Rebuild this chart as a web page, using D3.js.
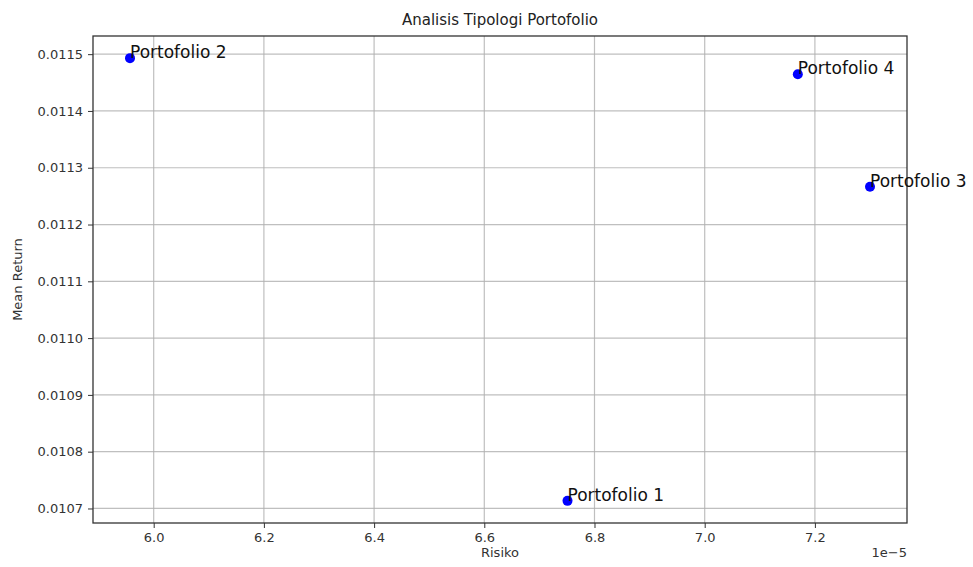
<!DOCTYPE html>
<html><head><meta charset="utf-8">
<script src="https://cdn.jsdelivr.net/npm/d3@7"></script>
<style>body{margin:0;background:#fff;} text{font-family:"DejaVu Sans",sans-serif;}</style>
</head><body>
<svg id="c" width="973" height="567"></svg>
<script>
const names = ["Portofolio 1","Portofolio 2","Portofolio 3","Portofolio 4"];
const risk = [6.751e-5, 5.957e-5, 7.300e-5, 7.169e-5];
const meanReturn = [0.0107134, 0.011493, 0.0112666, 0.0114646];
const xTicks = [6.0e-5,6.2e-5,6.4e-5,6.6e-5,6.8e-5,7.0e-5,7.2e-5];
const yTicks = [0.0107,0.0108,0.0109,0.0110,0.0111,0.0112,0.0113,0.0114,0.0115];

const svg = d3.select("#c");
const L=93, R=907, T=36, B=523;
const xr = d3.extent(risk), yr = d3.extent(meanReturn);
const xp = (xr[1]-xr[0])*0.05, yp=(yr[1]-yr[0])*0.05;
const x = d3.scaleLinear().domain([xr[0]-xp, xr[1]+xp]).range([L,R]);
const y = d3.scaleLinear().domain([yr[0]-yp, yr[1]+yp]).range([B,T]);

// grid
svg.append("g").selectAll("line").data(xTicks).join("line")
  .attr("x1",d=>x(d)).attr("x2",d=>x(d)).attr("y1",T).attr("y2",B)
  .attr("stroke","#b0b0b0").attr("stroke-width",1.2).attr("opacity",0.8);
svg.append("g").selectAll("line").data(yTicks).join("line")
  .attr("y1",d=>y(d)).attr("y2",d=>y(d)).attr("x1",L).attr("x2",R)
  .attr("stroke","#b0b0b0").attr("stroke-width",1.2).attr("opacity",0.8);

const xAxis = svg.append("g").attr("transform",`translate(0,${B})`)
  .call(d3.axisBottom(x).tickValues(xTicks).tickFormat(d=>(d*1e5).toFixed(1)).tickSize(5).tickPadding(5));
const yAxis = svg.append("g").attr("transform",`translate(${L},0)`)
  .call(d3.axisLeft(y).tickValues(yTicks).tickFormat(d=>d.toFixed(4)).tickSize(5).tickPadding(5));
[xAxis,yAxis].forEach(a=>{
  a.select(".domain").remove();
  a.selectAll(".tick line").attr("stroke","#333");
  a.selectAll(".tick text").attr("fill","#333").style("font-size","13px").style("font-family","DejaVu Sans");
});
svg.append("rect").attr("x",L).attr("y",T).attr("width",R-L).attr("height",B-T)
  .attr("fill","none").attr("stroke","#333").attr("stroke-width",1.3);

svg.append("text").attr("x",(L+R)/2).attr("y",25).attr("text-anchor","middle")
  .attr("fill","#222").style("font-size","15px").text("Analisis Tipologi Portofolio");
svg.append("text").attr("x",(L+R)/2).attr("y",557).attr("text-anchor","middle")
  .attr("fill","#333").style("font-size","13px").text("Risiko");
svg.append("text").attr("transform",`translate(22,${(T+B)/2}) rotate(-90)`).attr("text-anchor","middle")
  .attr("fill","#333").style("font-size","13px").text("Mean Return");
svg.append("text").attr("x",R).attr("y",557).attr("text-anchor","end")
  .attr("fill","#333").style("font-size","13px").text("1e\u22125");

const pts = names.map((n,i)=>({n, x:risk[i], y:meanReturn[i]}));
svg.append("g").selectAll("circle").data(pts).join("circle")
  .attr("cx",d=>x(d.x)).attr("cy",d=>y(d.y)).attr("r",5).attr("fill","#0000ff");
svg.append("g").selectAll("text").data(pts).join("text")
  .attr("x",d=>x(d.x)).attr("y",d=>y(d.y)).attr("fill","#111")
  .style("font-size","17px").text(d=>d.n);
</script>
</body></html>
